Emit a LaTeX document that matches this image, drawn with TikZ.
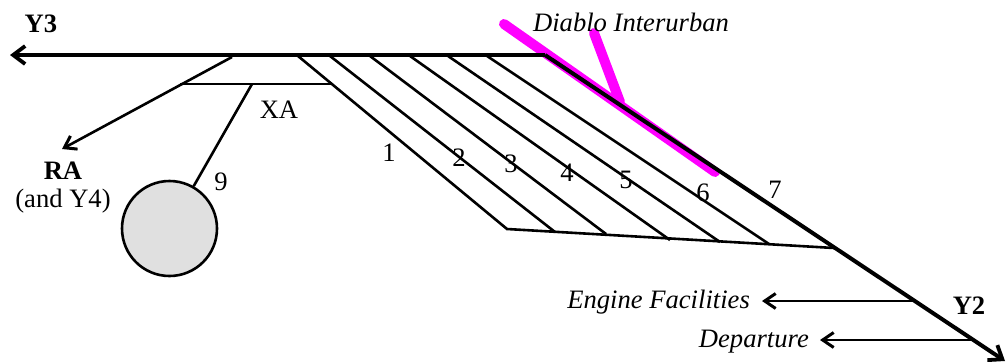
\documentclass[tikz,border=0pt]{standalone}
\usepackage{fontspec}
\setmainfont{Liberation Serif}
\usetikzlibrary{arrows.meta}
\definecolor{mag}{RGB}{255,0,255}
\definecolor{tankgray}{RGB}{224,224,224}
\tikzset{
  mainline/.style={draw=black,line width=4pt},
  trackline/.style={draw=black,line width=2.6pt},
  barb/.style={-{Straight Barb[length=12pt,width=18pt,line width=3.8pt]}},
  smallbarb/.style={-{Straight Barb[length=11pt,width=15pt,line width=3pt]}},
  interurban/.style={draw=mag,line width=10pt,line cap=round},
  lab/.style={inner sep=0pt,font=\fontsize{26.6}{30}\selectfont},
  blab/.style={lab,font=\fontsize{26.6}{30}\selectfont\bfseries},
  ilab/.style={lab,font=\fontsize{26.6}{30}\selectfont\itshape},
  tank/.style={circle,draw=black,fill=tankgray,line width=2.6pt,minimum size=95pt,inner sep=0pt}
}
\begin{document}
\begin{tikzpicture}[x=1pt,y=-1pt]
\useasboundingbox (0,0) rectangle (1006,362);
% junctions
\coordinate (y3) at (10,55);
\coordinate (bend) at (545,55);
\coordinate (y2) at (1005,361);
\coordinate (ra) at (62,149);
\coordinate (rs) at (232,57);
\coordinate (xl) at (180,84);
\coordinate (xr) at (332,84);
\coordinate (xm) at (252,84);
\coordinate (b1) at (507,229);
\coordinate (b2) at (555,232);
\coordinate (b3) at (606,234);
\coordinate (b4) at (670,240);
\coordinate (b5) at (720,242);
\coordinate (b6) at (769,244);
\coordinate (b7) at (834,248);
\coordinate (t1) at (298,56);
\coordinate (t2) at (330,56);
\coordinate (t3) at (370,56);
\coordinate (t4) at (410,56);
\coordinate (t5) at (448,56);
\coordinate (t6) at (487,56);
\coordinate (ef) at (762,301);
\coordinate (efj) at (914,301);
\coordinate (dp) at (820,340);
\coordinate (dpj) at (971,340);
\coordinate (m1) at (504,24);
\coordinate (m2) at (715,172);
\coordinate (m3) at (594,33);
\coordinate (m4) at (620,102);
% interurban
\draw[interurban] (m1) -- (m2);
\draw[interurban] (m3) -- (m4);
% tank
\node[tank] (tk) at (169.5,228.5) {};
% tracks
\draw[trackline] (t1) -- (b1) -- (b7);
\draw[trackline] (t2) -- (b2);
\draw[trackline] (t3) -- (b3);
\draw[trackline] (t4) -- (b4);
\draw[trackline] (t5) -- (b5);
\draw[trackline] (t6) -- (b6);
\draw[trackline] (xl) -- (xr);
\draw[trackline] (xm) -- (tk);
\draw[trackline,smallbarb] (rs) -- (ra);
\draw[trackline,smallbarb] (efj) -- (ef);
\draw[trackline,smallbarb] (dpj) -- (dp);
% main line
\draw[mainline,barb] (bend) -- (y3);
\draw[mainline,barb] (bend) -- (y2);
% labels
\node[blab] (ly3) at (41,24) {Y3};
\node[blab] (ly2) at (969,306) {Y2};
\node[ilab] (ldi) at (631,22) {Diablo Interurban};
\node[lab] (lxa) at (279,110) {XA};
\node[lab] (l1) at (389,153) {1};
\node[lab] (l2) at (459,158) {2};
\node[lab] (l3) at (511,164) {3};
\node[lab] (l4) at (567,173) {4};
\node[lab] (l5) at (626,180) {5};
\node[lab] (l6) at (703,193) {6};
\node[lab] (l7) at (775,190) {7};
\node[lab] (l9) at (221,182) {9};
\node[blab] (lra) at (63,171) {RA};
\node[lab] (lrb) at (63,201) {(and Y4)};
\node[ilab,anchor=east] (lef) at (750,302) {Engine Facilities};
\node[ilab,anchor=east] (ldp) at (809,342) {Departure};
\end{tikzpicture}
\end{document}
